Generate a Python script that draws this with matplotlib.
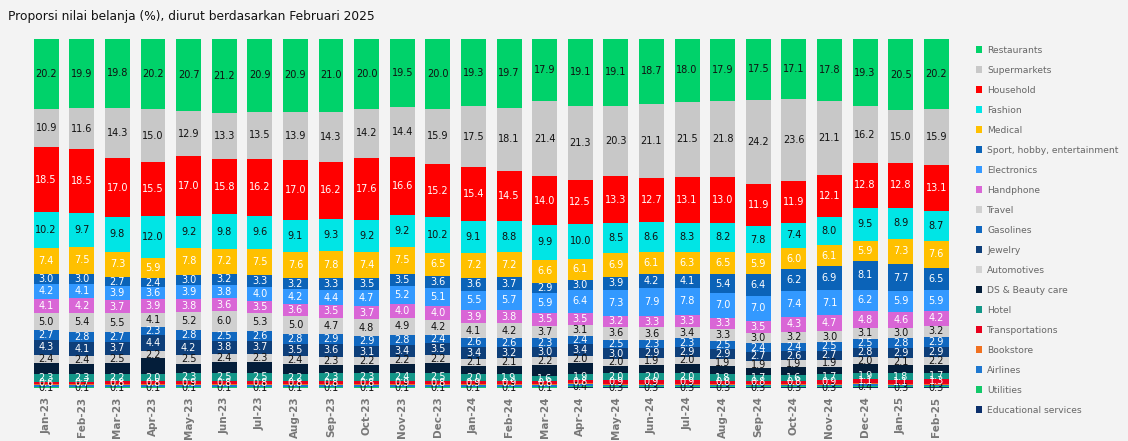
import matplotlib
matplotlib.use("Agg")
import matplotlib.pyplot as plt
import numpy as np

months = ["Jan-23", "Feb-23", "Mar-23", "Apr-23", "May-23", "Jun-23", "Jul-23", "Aug-23",
          "Sep-23", "Oct-23", "Nov-23", "Dec-23", "Jan-24", "Feb-24", "Mar-24", "Apr-24",
          "May-24", "Jun-24", "Jul-24", "Aug-24", "Sep-24", "Oct-24", "Nov-24", "Dec-24",
          "Jan-25", "Feb-25"]

restaurants = [20.2, 19.9, 19.8, 20.2, 20.7, 21.2, 20.9, 20.9, 21.0, 20.0, 19.5, 20.0, 19.3,
               19.7, 17.9, 19.1, 19.1, 18.7, 18.0, 17.9, 17.5, 17.1, 17.8, 19.3, 20.5, 20.2]
supermarkets = [10.9, 11.6, 14.3, 15.0, 12.9, 13.3, 13.5, 13.9, 14.3, 14.2, 14.4, 15.9, 17.5,
                18.1, 21.4, 21.3, 20.3, 21.1, 21.5, 21.8, 24.2, 23.6, 21.1, 16.2, 15.0, 15.9]
household = [18.5, 18.5, 17.0, 15.5, 17.0, 15.8, 16.2, 17.0, 16.2, 17.6, 16.6, 15.2, 15.4,
             14.5, 14.0, 12.5, 13.3, 12.7, 13.1, 13.0, 11.9, 11.9, 12.1, 12.8, 12.8, 13.1]
fashion = [10.2, 9.7, 9.8, 12.0, 9.2, 9.8, 9.6, 9.1, 9.3, 9.2, 9.2, 10.2, 9.1,
           8.8, 9.9, 10.0, 8.5, 8.6, 8.3, 8.2, 7.8, 7.4, 8.0, 9.5, 8.9, 8.7]
medical = [7.4, 7.5, 7.3, 5.9, 7.8, 7.2, 7.5, 7.6, 7.8, 7.4, 7.5, 6.5, 7.2,
           7.2, 6.6, 6.1, 6.9, 6.1, 6.3, 6.5, 5.9, 6.0, 6.1, 5.9, 7.3, 7.6]
sport = [3.0, 3.0, 2.7, 2.4, 3.0, 3.2, 3.3, 3.2, 3.3, 3.5, 3.5, 3.6, 3.6,
         3.7, 2.9, 3.0, 3.9, 4.2, 4.1, 5.4, 6.4, 6.2, 6.9, 8.1, 7.7, 6.5]
electronics = [4.2, 4.1, 3.9, 3.6, 3.9, 3.8, 4.0, 4.2, 4.4, 4.7, 5.2, 5.1, 5.5,
               5.7, 5.9, 6.4, 7.3, 7.9, 7.8, 7.0, 7.0, 7.4, 7.1, 6.2, 5.9, 5.9]
handphone = [4.1, 4.2, 3.7, 3.9, 3.8, 3.6, 3.5, 3.6, 3.5, 3.7, 4.0, 4.0, 3.9,
             3.8, 3.5, 3.5, 3.2, 3.3, 3.3, 3.3, 3.5, 4.3, 4.7, 4.8, 4.6, 4.2]
travel = [5.0, 5.4, 5.5, 4.1, 5.2, 6.0, 5.3, 5.0, 4.7, 4.8, 4.9, 4.2, 4.1,
          4.2, 3.7, 3.1, 3.6, 3.6, 3.4, 3.3, 3.0, 3.2, 3.0, 3.1, 3.0, 3.2]
gasolines = [2.7, 2.8, 2.7, 2.3, 2.8, 2.5, 2.6, 2.8, 2.9, 2.9, 2.8, 2.4, 2.6,
             2.6, 2.3, 2.4, 2.5, 2.3, 2.3, 2.5, 2.4, 2.4, 2.5, 2.5, 2.8, 2.9]
jewelry = [4.3, 4.1, 3.7, 4.4, 4.2, 3.8, 3.7, 3.5, 3.6, 3.1, 3.4, 3.5, 3.4,
           3.2, 3.0, 3.4, 3.0, 2.9, 2.9, 2.9, 2.7, 2.6, 2.7, 2.8, 2.9, 2.9]
automotives = [2.4, 2.4, 2.5, 2.2, 2.5, 2.4, 2.3, 2.4, 2.3, 2.2, 2.2, 2.2, 2.1,
               2.1, 2.2, 2.0, 2.0, 1.9, 2.0, 1.9, 1.9, 1.9, 1.9, 2.0, 2.1, 2.2]
ds_beauty = [3.1, 2.7, 3.0, 4.6, 2.7, 3.0, 3.2, 2.7, 2.5, 2.5, 2.4, 2.8, 2.3,
             2.5, 3.2, 3.1, 2.2, 2.5, 2.8, 2.4, 2.0, 2.3, 2.2, 2.4, 2.3, 2.4]
hotel = [2.3, 2.3, 2.2, 2.0, 2.3, 2.5, 2.5, 2.2, 2.3, 2.3, 2.4, 2.5, 2.0,
         1.9, 1.6, 1.9, 2.0, 2.0, 2.0, 1.8, 1.7, 1.6, 1.7, 1.9, 1.8, 1.7]
transportations = [0.6, 0.7, 0.8, 0.8, 0.9, 0.8, 0.8, 0.8, 0.8, 0.8, 0.9, 0.8, 0.9,
                   0.9, 0.8, 0.8, 0.9, 0.9, 0.9, 0.8, 0.8, 0.8, 0.9, 1.1, 1.1, 1.3]
bookstore = [0.3] * 26
airlines = [0.5] * 26
utilities = [0.2] * 26
educational = [0.1, 0.1, 0.1, 0.1, 0.1, 0.1, 0.1, 0.1, 0.1, 0.1, 0.1, 0.1, 0.1,
               0.1, 0.1, 0.4, 0.3, 0.3, 0.3, 0.3, 0.3, 0.3, 0.3, 0.4, 0.3, 0.3]

# bottom -> top: (name, values, colour, label colour or None)
series = [
    ("Educational services", educational, "#0b2f6b", "#111111"),
    ("Utilities", utilities, "#12c86a", None),
    ("Airlines", airlines, "#1e78d0", None),
    ("Bookstore", bookstore, "#f07020", None),
    ("Transportations", transportations, "#e8001c", "white"),
    ("Hotel", hotel, "#139688", "white"),
    ("DS & Beauty care", ds_beauty, "#041e3a", None),
    ("Automotives", automotives, "#d3d3d3", "#111111"),
    ("Jewelry", jewelry, "#0e3f7a", "white"),
    ("Gasolines", gasolines, "#1168c0", "white"),
    ("Travel", travel, "#d0d0d0", "#111111"),
    ("Handphone", handphone, "#d966d6", "white"),
    ("Electronics", electronics, "#3399ff", "white"),
    ("Sport, hobby, entertainment", sport, "#0b63b8", "white"),
    ("Medical", medical, "#ffc000", "white"),
    ("Fashion", fashion, "#00e5e5", "#111111"),
    ("Household", household, "#ff0000", "white"),
    ("Supermarkets", supermarkets, "#c8c8c8", "#111111"),
    ("Restaurants", restaurants, "#00d26a", "#111111"),
]

fig = plt.figure(figsize=(11.28, 4.41), dpi=100)
fig.patch.set_facecolor("#f3f3f3")
ax = fig.add_axes([0.022, 0.12, 0.827, 0.792])
ax.set_facecolor("none")

x = np.arange(len(months))
bottom = np.zeros(len(months))
handles = []
for name, vals, col, tcol in series:
    vals = np.array(vals)
    bars = ax.bar(x, vals, 0.7, bottom=bottom, color=col, label=name)
    handles.append(bars)
    if tcol is not None:
        for xi, b, v in zip(x, bottom, vals):
            ax.text(xi, b + v / 2, f"{v:.1f}", ha="center", va="center",
                    fontsize=7, color=tcol)
    bottom += vals

total = bottom.max()
ax.set_xlim(-0.6, len(months) - 0.4)
ax.set_ylim(0, total)
ax.set_xticks(x)
ax.set_xticklabels(months, rotation=90, fontsize=7.5, color="#777777", fontweight="bold")
ax.tick_params(axis="x", length=0, pad=6)
ax.set_yticks([])
for s in ax.spines.values():
    s.set_visible(False)

fig.text(0.007, 0.963, "Proporsi nilai belanja (%), diurut berdasarkan Februari 2025",
         fontsize=8.8, color="#111111", va="center")

leg = fig.legend(handles[::-1], [s[0] for s in series[::-1]], loc="upper left",
                 bbox_to_anchor=(0.862, 0.905), frameon=False, fontsize=6.6,
                 handlelength=0.7, handleheight=0.7, handletextpad=0.5,
                 labelspacing=1.2, labelcolor="#666666", borderaxespad=0)

fig.savefig("out.png", dpi=100, facecolor=fig.get_facecolor())
